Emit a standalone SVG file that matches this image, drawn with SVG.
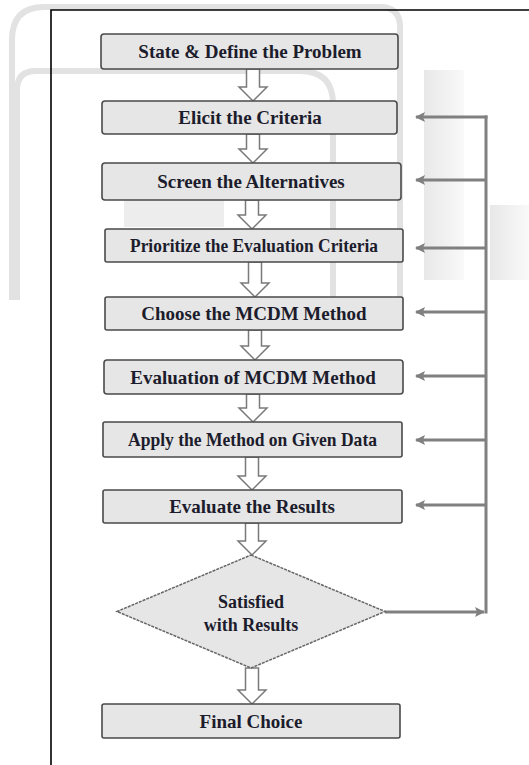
<svg xmlns="http://www.w3.org/2000/svg" width="529" height="765" viewBox="0 0 529 765">
<style>
.box{fill:#e6e6e6;stroke:#4a4a4a;stroke-width:1.6}
.lbl{font-family:"Liberation Serif","Times New Roman",serif;font-weight:bold;font-size:19px;fill:#1c1c2c;text-anchor:middle}
.blk{fill:#ffffff;stroke:#7a7a7a;stroke-width:1.5;stroke-linejoin:miter}
.fb{fill:none;stroke:#808080;stroke-width:3}
.wm{fill:none;stroke:#e2e2e2;stroke-width:6}
</style>
<defs>
<marker id="ah" viewBox="0 0 10 10" refX="9" refY="5" markerWidth="12" markerHeight="10" markerUnits="userSpaceOnUse" orient="auto">
<path d="M0,0 L10,5 L0,10 L2,5 Z" fill="#808080"/>
</marker>
<linearGradient id="wg" x1="0" y1="0" x2="1" y2="0">
<stop offset="0" stop-color="#e8e8e8"/>
<stop offset="1" stop-color="#f9f9f9"/>
</linearGradient>
</defs>
<rect width="529" height="765" fill="#ffffff"/>
<g id="watermark">
<path class="wm" d="M12,300 V40 Q12,7 44,7 H380 Q400,7 400,27 V330"/>
<path class="wm" d="M17,300 V90 Q17,71 36,71 H300 Q333,71 333,104 V300" stroke-width="7"/>
<rect x="424" y="70" width="40" height="210" fill="url(#wg)"/>
<rect x="490" y="205" width="39" height="75" fill="url(#wg)"/>
<rect x="124" y="200" width="100" height="27" fill="#ededed"/>
</g>
<path d="M51,765 V10 H529" fill="none" stroke="#000" stroke-width="1.6"/>
<g id="connectors">
<path class="blk" d="M246.5,69 H259.5 V87 H267 L253,101 L239,87 H246.5 Z"/>
<path class="blk" d="M246.5,134 H259.5 V149 H267 L253,163 L239,149 H246.5 Z"/>
<path class="blk" d="M245.5,200 H258.5 V215 H266 L252,229 L238,215 H245.5 Z"/>
<path class="blk" d="M248.5,262 H261.5 V283 H269 L255,297 L241,283 H248.5 Z"/>
<path class="blk" d="M248.5,330 H261.5 V346 H269 L255,360 L241,346 H248.5 Z"/>
<path class="blk" d="M246.5,394 H259.5 V408 H267 L253,422 L239,408 H246.5 Z"/>
<path class="blk" d="M245.5,457 H258.5 V476 H266 L252,490 L238,476 H245.5 Z"/>
<path class="blk" d="M245.5,523 H258.5 V541 H266 L252,555 L238,541 H245.5 Z"/>
<path class="blk" d="M245.5,668 H258.5 V690 H266 L252,704 L238,690 H245.5 Z"/>
<line class="fb" x1="385" y1="612" x2="484" y2="612" marker-end="url(#ah)"/>
<path class="fb" d="M486,613.5 V115.5"/>
<line class="fb" x1="487.5" y1="117" x2="416" y2="117" marker-end="url(#ah)"/>
<line class="fb" x1="486" y1="180" x2="416" y2="180" marker-end="url(#ah)"/>
<line class="fb" x1="486" y1="248" x2="416" y2="248" marker-end="url(#ah)"/>
<line class="fb" x1="486" y1="312" x2="416" y2="312" marker-end="url(#ah)"/>
<line class="fb" x1="486" y1="376" x2="416" y2="376" marker-end="url(#ah)"/>
<line class="fb" x1="486" y1="440" x2="416" y2="440" marker-end="url(#ah)"/>
<line class="fb" x1="486" y1="505" x2="416" y2="505" marker-end="url(#ah)"/>
</g>
<g id="n1"><rect class="box" x="101" y="34" width="297" height="35" rx="3"/><text class="lbl" x="250" y="58">State &amp; Define the Problem</text></g>
<g id="n2"><rect class="box" x="102" y="101" width="295" height="33" rx="3"/><text class="lbl" x="250" y="124">Elicit the Criteria</text></g>
<g id="n3"><rect class="box" x="102" y="163" width="299" height="37" rx="3"/><text class="lbl" x="251" y="188">Screen the Alternatives</text></g>
<g id="n4"><rect class="box" x="105" y="229" width="298" height="33" rx="2"/><text class="lbl" x="254" y="252" textLength="248" lengthAdjust="spacingAndGlyphs">Prioritize the Evaluation Criteria</text></g>
<g id="n5"><rect class="box" x="105" y="297" width="298" height="33" rx="2"/><text class="lbl" x="254" y="320">Choose the MCDM Method</text></g>
<g id="n6"><rect class="box" x="104" y="360" width="299" height="34" rx="3"/><text class="lbl" x="253" y="383.5">Evaluation of MCDM Method</text></g>
<g id="n7"><rect class="box" x="103" y="422" width="299" height="35" rx="2"/><text class="lbl" x="252.5" y="446" textLength="249" lengthAdjust="spacingAndGlyphs">Apply the Method on Given Data</text></g>
<g id="n8"><rect class="box" x="103" y="490" width="299" height="33" rx="2"/><text class="lbl" x="252" y="513">Evaluate the Results</text></g>
<g id="n9"><path d="M251,555 L385,611.5 L251,668 L117,611.5 Z" fill="#e6e6e6" stroke="#666" stroke-width="1.5" stroke-dasharray="3,1"/><text class="lbl" x="251" y="608" style="font-size:18px">Satisfied</text><text class="lbl" x="251" y="631" style="font-size:18px">with Results</text></g>
<g id="n10"><rect class="box" x="102" y="704" width="298" height="34" rx="2"/><text class="lbl" x="251" y="727.5">Final Choice</text></g>
</svg>
